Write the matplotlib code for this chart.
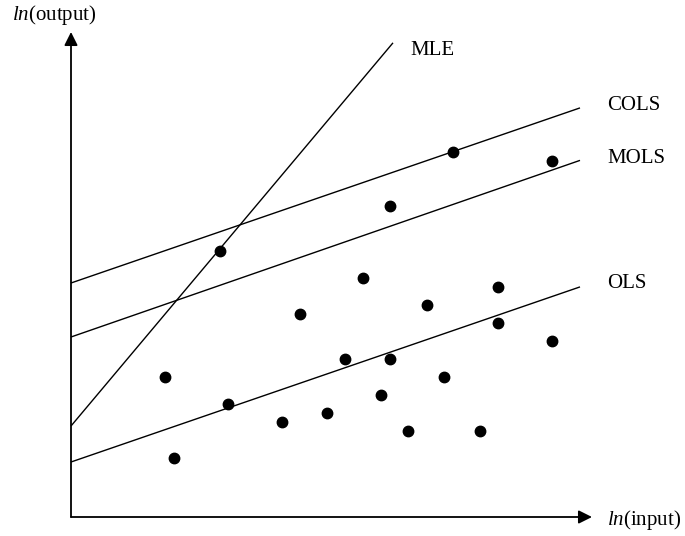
import numpy as np
import matplotlib
matplotlib.use("Agg")
import matplotlib.pyplot as plt

plt.rcParams['font.family'] = ['Liberation Serif', 'DejaVu Serif']
plt.rcParams['mathtext.fontset'] = 'custom'
plt.rcParams['mathtext.rm'] = 'Liberation Serif'
plt.rcParams['mathtext.it'] = 'Liberation Serif:italic'

# observations (ln input, ln output)
x_obs = [2.98, 7.64, 9.62, 6.38, 5.84, 4.58, 7.12, 8.54, 8.54, 1.88, 5.48,
         6.38, 9.62, 3.14, 7.46, 6.20, 5.12, 4.22, 6.74, 8.18, 2.06]
y_obs = [5.32, 7.30, 7.12, 6.22, 4.78, 4.06, 4.24, 4.60, 3.88, 2.80, 3.16,
         3.16, 3.52, 2.26, 2.80, 2.44, 2.08, 1.90, 1.72, 1.72, 1.18]

# frontier / regression lines
line_names = ['OLS', 'MOLS', 'COLS', 'MLE']
intercepts = [1.10, 3.60, 4.68, 1.82]
slopes = [0.344, 0.347, 0.344, 1.19]
x_ends = [10.18, 10.18, 10.18, 6.44]

fig = plt.figure(figsize=(6.85, 5.36), dpi=100)
ax = fig.add_axes([0, 0, 1, 1])
ax.set_xlim(-1.42, 12.28)
ax.set_ylim(-0.38, 10.34)
ax.axis('off')

# axes with arrow heads
arrow = dict(arrowstyle='-|>', color='black', lw=1.3, mutation_scale=20,
             shrinkA=0, shrinkB=0)
ax.annotate('', xy=(10.42, 0), xytext=(0, 0), arrowprops=arrow)
ax.annotate('', xy=(0, 9.70), xytext=(0, 0), arrowprops=arrow)

for b, m, xe in zip(intercepts, slopes, x_ends):
    xs = np.array([0, xe])
    ax.plot(xs, b + m * xs, color='black', lw=1.0, solid_capstyle='butt')

ax.plot(x_obs, y_obs, 'o', color='black', markersize=7.5)

fs = 15
ax.text(10.72, 8.24, 'COLS', fontsize=fs, va='center', ha='left')
ax.text(10.72, 7.18, 'MOLS', fontsize=fs, va='center', ha='left')
ax.text(10.72, 4.66, 'OLS', fontsize=fs, va='center', ha='left')
ax.text(6.78, 9.34, 'MLE', fontsize=fs, va='center', ha='left')
ax.text(-1.18, 10.04, r'$\mathit{ln}$(output)', fontsize=fs, va='center', ha='left')
ax.text(10.72, -0.06, r'$\mathit{ln}$(input)', fontsize=fs, va='center', ha='left')

fig.savefig('out.png', dpi=100)
